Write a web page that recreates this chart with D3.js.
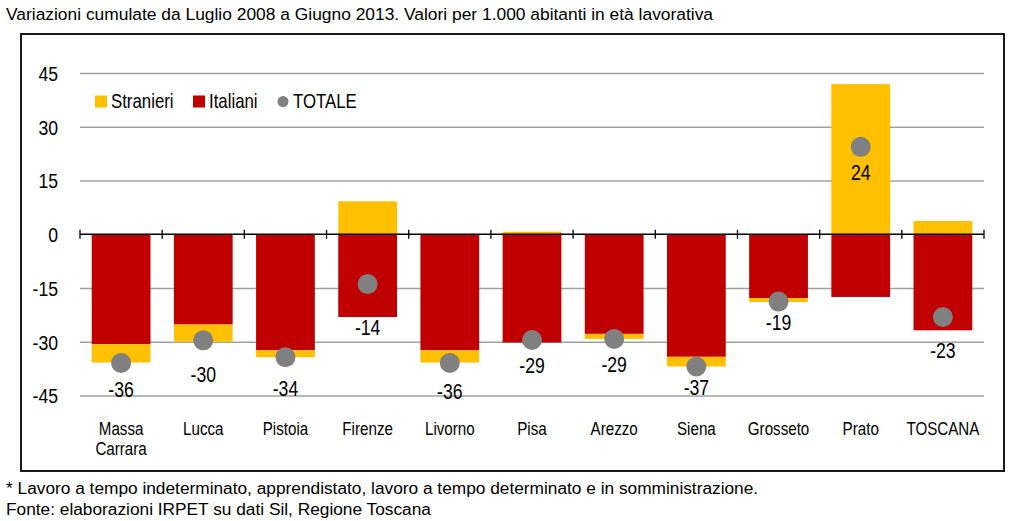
<!DOCTYPE html>
<html><head><meta charset="utf-8">
<script src="https://cdnjs.cloudflare.com/ajax/libs/d3/7.8.5/d3.min.js"></script>
<style>
html,body{margin:0;padding:0;background:#fff;}
svg text{font-family:"Liberation Sans Narrow","Arial Narrow","Liberation Sans",Arial,sans-serif;fill:#000;}
</style></head>
<body><svg id="c" width="1024" height="521"></svg>
<script>
const categories = ["Massa\nCarrara","Lucca","Pistoia","Firenze","Livorno","Pisa","Arezzo","Siena","Grosseto","Prato","TOSCANA"];
const italiani  = [-30.7,-25.2,-32.4,-23.1,-32.4,-30.2,-27.8,-34.2,-17.8,-17.5,-26.8];
const stranieri = [-5.1,-4.8,-1.9,9.2,-3.4,0.7,-1.4,-2.7,-1.1,41.9,3.7];
const totale    = [-35.9,-29.6,-34.3,-13.9,-35.9,-29.5,-29.2,-36.9,-18.8,24.4,-23.1];
const totaleLabels = ["-36","-30","-34","-14","-36","-29","-29","-37","-19","24","-23"];
const yTicks = [-45,-30,-15,0,15,30,45];
const titleText = "Variazioni cumulate da Luglio 2008 a Giugno 2013. Valori per 1.000 abitanti in età lavorativa";
const noteText = "* Lavoro a tempo indeterminato, apprendistato, lavoro a tempo determinato e in somministrazione.";
const sourceText = "Fonte: elaborazioni IRPET su dati Sil, Regione Toscana";

// layout: pixel nudge of each TOTALE label below its dot
const labelNudge = [34,42,39,51,36,33,33,28.5,28,33,41];

const COL_STR = "#FFC000", COL_ITA = "#C00000", COL_TOT = "#808080";
const NARROW = 0.82;

const svg = d3.select("#c");

function ntext(parent, x, y, str, size, anchor) {
  return parent.append("text")
    .attr("transform", `translate(${x},${y}) scale(${NARROW},1)`)
    .attr("text-anchor", anchor || "start")
    .attr("font-size", size).text(str);
}

// title & notes
svg.append("text").attr("x",6).attr("y",20).attr("font-size",17.4).text(titleText);
svg.append("text").attr("x",6).attr("y",494).attr("font-size",17.3).text(noteText);
svg.append("text").attr("x",6).attr("y",515).attr("font-size",17.3).text(sourceText);

// frame
svg.append("rect").attr("x",21).attr("y",34).attr("width",983).attr("height",437)
  .attr("fill","none").attr("stroke","#000").attr("stroke-width",1.8);

const x = d3.scaleBand().domain(categories).range([80,984]).paddingInner(0.285).paddingOuter(0.1425);
const y = d3.scaleLinear().domain([-45,45]).range([395.5,73]);

// gridlines + y labels
const yAxis = d3.axisLeft(y).tickValues(yTicks).tickSize(-(984-80)).tickFormat(d=>d);
const gy = svg.append("g").attr("transform","translate(80,0)").call(yAxis);
gy.select(".domain").remove();
gy.selectAll(".tick line").attr("stroke","#a0a0a0").attr("stroke-width",1.5)
  .attr("display",d=>d===0?"none":null);
gy.selectAll(".tick text").attr("x",null).attr("dy",null)
  .attr("transform",`translate(-22,7.3) scale(0.84,1)`)
  .attr("font-size",21).attr("text-anchor","end")
  .attr("font-family","'Liberation Sans Narrow','Arial Narrow','Liberation Sans',sans-serif");

// bars
const g = svg.append("g");
categories.forEach((c,i)=>{
  const it = italiani[i], st = stranieri[i];
  g.append("rect").attr("x",x(c)).attr("width",x.bandwidth())
    .attr("y",y(0)).attr("height",y(it)-y(0)).attr("fill",COL_ITA);
  if (st >= 0) {
    g.append("rect").attr("x",x(c)).attr("width",x.bandwidth())
      .attr("y",y(st)).attr("height",y(0)-y(st)).attr("fill",COL_STR);
  } else {
    g.append("rect").attr("x",x(c)).attr("width",x.bandwidth())
      .attr("y",y(it)).attr("height",y(it+st)-y(it)).attr("fill",COL_STR);
  }
});

// zero axis with ticks at band boundaries
const step = x.step();
svg.append("line").attr("x1",80).attr("x2",984).attr("y1",y(0)).attr("y2",y(0))
  .attr("stroke","#000").attr("stroke-width",1.3);
d3.range(categories.length+1).forEach(i=>{
  const xx = 80 + i*step;
  svg.append("line").attr("x1",xx).attr("x2",xx).attr("y1",y(0)-4.5).attr("y2",y(0)+4.5)
    .attr("stroke","#000").attr("stroke-width",1.3);
});

// totale dots + labels
categories.forEach((c,i)=>{
  const cx = x(c)+x.bandwidth()/2;
  svg.append("circle").attr("cx",cx).attr("cy",y(totale[i])).attr("r",10).attr("fill",COL_TOT);
  ntext(svg, cx, y(totale[i])+labelNudge[i], totaleLabels[i], 21.5, "middle");
});

// category labels
categories.forEach(c=>{
  c.split("\n").forEach((line,j)=>{
    ntext(svg, x(c)+x.bandwidth()/2, 435+j*20, line, 18.5, "middle");
  });
});

// legend
const lg = svg.append("g");
lg.append("rect").attr("x",95).attr("y",95.5).attr("width",12).attr("height",12).attr("fill",COL_STR);
ntext(lg, 111, 108, "Stranieri", 20.5);
lg.append("rect").attr("x",193).attr("y",95.5).attr("width",12).attr("height",12).attr("fill",COL_ITA);
ntext(lg, 209, 108, "Italiani", 20.5);
lg.append("circle").attr("cx",283).attr("cy",101.5).attr("r",5.5).attr("fill",COL_TOT);
ntext(lg, 293, 108, "TOTALE", 20.5);
</script></body></html>
